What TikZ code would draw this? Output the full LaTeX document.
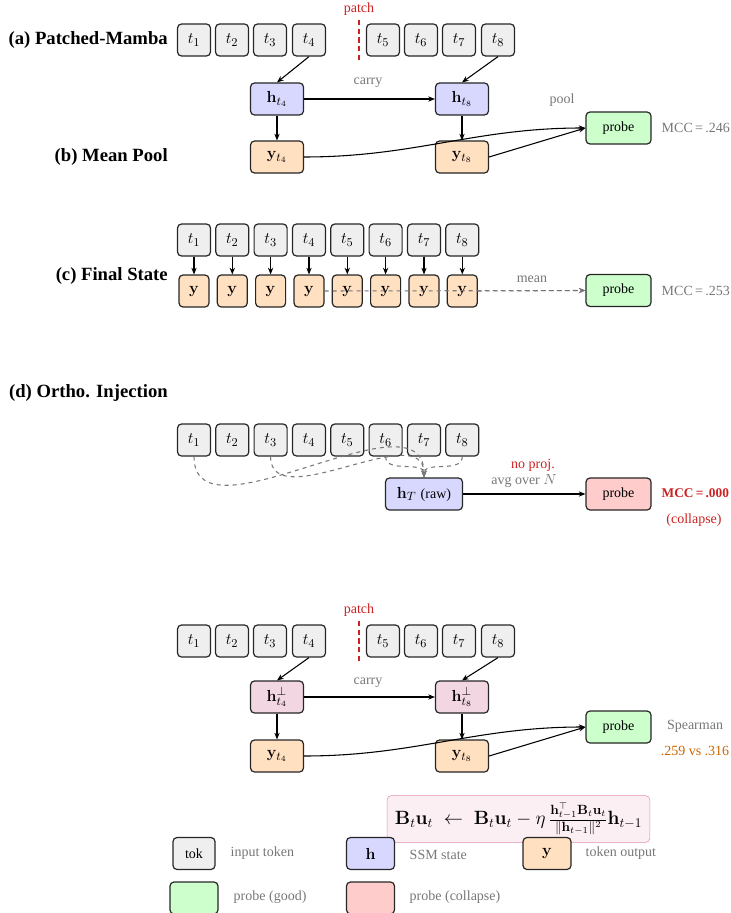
\documentclass[tikz,border=0pt]{standalone}
\usepackage[no-math]{fontspec}
\setmainfont{Liberation Serif}
\usepackage{amsmath,amssymb}
\usetikzlibrary{arrows.meta}

\definecolor{tokgray}{HTML}{EFEFEF}
\definecolor{hblue}{HTML}{D8D8FF}
\definecolor{hpink}{HTML}{F2D6E2}
\definecolor{yorange}{HTML}{FFE0C0}
\definecolor{pgreen}{HTML}{CCFFCC}
\definecolor{pred}{HTML}{FFCCCC}
\definecolor{eqfill}{HTML}{FCEFF3}
\definecolor{eqdraw}{HTML}{E08FAD}
\definecolor{patchred}{HTML}{CC2222}
\definecolor{noteorange}{HTML}{CC6600}
\definecolor{notegray}{HTML}{777777}

\tikzset{
  box/.style={draw=black!85, line width=0.9pt, rounded corners=3pt, inner sep=2pt, minimum height=24pt},
  mathbox/.style={box, font=\fontsize{12.6}{15}\selectfont},
  tok/.style={mathbox, fill=tokgray, minimum width=24.75pt},
  hst/.style={mathbox, fill=hblue, minimum width=39.75pt},
  hperp/.style={mathbox, fill=hpink, minimum width=39.75pt},
  yout/.style={mathbox, fill=yorange, minimum width=39.75pt},
  ysmall/.style={mathbox, fill=yorange, minimum width=22.5pt},
  probegood/.style={box, fill=pgreen, minimum width=48.75pt},
  probebad/.style={box, fill=pred, minimum width=48.75pt},
  panel/.style={anchor=east, inner sep=0pt, font=\fontsize{14}{16}\selectfont\bfseries},
  note/.style={text=notegray},
  link/.style={->, thick},
  soft/.style={->, thick, dashed, notegray},
  patchcut/.style={patchred, line width=1.5pt, dash pattern=on 4pt off 2.5pt},
}

\begin{document}
\begin{tikzpicture}[x=0.75pt, y=-0.75pt, >={Stealth[length=5pt,width=4pt]},
  font=\fontsize{10.5}{12.6}\selectfont]
  \useasboundingbox (0,0) rectangle (731,913);

  % (a) patched scan
  \node[panel] (lblA) at (168,40) {(a) Patched-Mamba};
  \foreach \i/\x in {1/194,2/232,3/270,4/309,5/383,6/421,7/459,8/498}
    \node[tok] (a-t\i) at (\x,40) {$t_{\i}$};
  \node[text=patchred] (a-patch) at (359,9) {patch};
  \draw[patchcut] (359,20) -- (359,62);
  \node[hst] (a-h4) at (277,99) {$\mathbf{h}_{t_4}$};
  \node[hst] (a-h8) at (462,99) {$\mathbf{h}_{t_8}$};
  \node[note] (a-carry) at (368,83) {carry};
  \draw[link] (a-t4.south) -- (a-h4.north);
  \draw[link] (a-t8.south) -- (a-h8.north);
  \draw[link] (a-h4) -- (a-h8);

  % (b) mean pool
  \node[panel] (lblB) at (168,157) {(b) Mean Pool};
  \node[yout] (a-y4) at (277,157) {$\mathbf{y}_{t_4}$};
  \node[yout] (a-y8) at (462,157) {$\mathbf{y}_{t_8}$};
  \node[probegood] (a-probe) at (618.5,128) {probe};
  \node[note, anchor=west] (a-mcc) at (657,128) {MCC\,=\,.246};
  \node[note] (a-pool) at (562,100) {pool};
  \draw[link] (a-h4) -- (a-y4);
  \draw[link] (a-h8) -- (a-y8);
  \draw[link] (a-y4.east) to[out=0,in=180] (a-probe.west);
  \draw[link] (a-y8.east) -- (a-probe.west);

  % (c) final state
  \node[panel] (lblC) at (168,276) {(c) Final State};
  \foreach \i/\x in {1/194,2/232.3,3/270.6,4/309,5/347.3,6/385.6,7/424,8/462.3} {
    \node[tok] (c-t\i) at (\x,240) {$t_{\i}$};
    \node[ysmall] (c-y\i) at (\x,291) {$\mathbf{y}$};
    \draw[link] (c-t\i) -- (c-y\i);
  }
  \node[probegood] (c-probe) at (618.5,290.5) {probe};
  \node[note, anchor=west] (c-mcc) at (657,290.5) {MCC\,=\,.253};
  \node[note] (c-mean) at (532,279) {mean};
  \draw[soft] (c-y4.east) -- (c-probe.west);
  \draw[soft] (c-y8.east) -- (c-probe.west);

  % (d) ortho injection, raw state
  \node[panel] (lblD) at (168,393) {(d) Ortho. Injection};
  \foreach \i/\x in {1/194,2/232.3,3/270.6,4/309,5/347.3,6/385.6,7/424,8/462.3}
    \node[tok] (d-t\i) at (\x,440) {$t_{\i}$};
  \node[hst, minimum width=57.75pt] (d-hT) at (424,494) {$\mathbf{h}_T$ {\fontsize{10.5}{12.6}\selectfont(raw)}};
  \node[probebad] (d-probe) at (618.5,494) {probe};
  \node[anchor=west, text=patchred, font=\bfseries] (d-mcc) at (657,493) {MCC\,=\,.000};
  \node[text=patchred] (d-collapse) at (694,520) {(collapse)};
  \node[text=patchred] (d-noproj) at (533,465) {no proj.};
  \node[note] (d-avg) at (524,481) {avg over $N$};
  \foreach \i in {1,3,6,8}
    \draw[soft] (d-t\i.south) to[out=-90,in=90] (d-hT.north);
  \draw[link] (d-hT) -- (d-probe);

  % patched scan with orthogonal state
  \foreach \i/\x in {1/194,2/232,3/270,4/309,5/383,6/421,7/459,8/498}
    \node[tok] (e-t\i) at (\x,641) {$t_{\i}$};
  \node[text=patchred] (e-patch) at (359,610) {patch};
  \draw[patchcut] (359,621) -- (359,663);
  \node[hperp] (e-h4) at (277,697) {$\mathbf{h}^{\perp}_{t_4}$};
  \node[hperp] (e-h8) at (462,697) {$\mathbf{h}^{\perp}_{t_8}$};
  \node[yout] (e-y4) at (277,756) {$\mathbf{y}_{t_4}$};
  \node[yout] (e-y8) at (462,756) {$\mathbf{y}_{t_8}$};
  \node[probegood] (e-probe) at (618.5,727) {probe};
  \node[note] (e-carry) at (368,683) {carry};
  \node[note] (e-spear) at (695,726) {Spearman};
  \node[text=noteorange] (e-rho) at (695,751) {.259 vs .316};
  \draw[link] (e-t4.south) -- (e-h4.north);
  \draw[link] (e-t8.south) -- (e-h8.north);
  \draw[link] (e-h4) -- (e-h8);
  \draw[link] (e-h4) -- (e-y4);
  \draw[link] (e-h8) -- (e-y8);
  \draw[link] (e-y4.east) to[out=0,in=180] (e-probe.west);
  \draw[link] (e-y8.east) -- (e-probe.west);

  % update rule
  \node[draw=eqdraw, fill=eqfill, rounded corners=3pt, minimum width=197pt, minimum height=35pt,
    font=\fontsize{14.6}{17}\selectfont]
    (eq) at (518.5,819) {$\mathbf{B}_t\mathbf{u}_t \;\leftarrow\; \mathbf{B}_t\mathbf{u}_t - \eta\,\frac{\mathbf{h}_{t-1}^{\top}\mathbf{B}_t\mathbf{u}_t}{\|\mathbf{h}_{t-1}\|^2}\mathbf{h}_{t-1}$};

  % legend
  \node[tok, minimum width=31.5pt, font=\fontsize{10.5}{12.6}\selectfont] (lg-tok) at (194,853.5) {tok};
  \node[note, anchor=west] (lg-tok-t) at (226,853) {input token};
  \node[hst, minimum width=36pt] (lg-h) at (370.5,853.5) {$\mathbf{h}$};
  \node[note, anchor=west] (lg-h-t) at (405,855) {SSM state};
  \node[yout, minimum width=36pt] (lg-y) at (547,853.5) {$\mathbf{y}$};
  \node[note, anchor=west] (lg-y-t) at (581,853) {token output};
  \node[probegood, minimum width=36pt] (lg-good) at (194,898) {};
  \node[note, anchor=west] (lg-good-t) at (229,897) {probe (good)};
  \node[probebad, minimum width=36pt] (lg-bad) at (370.5,898) {};
  \node[note, anchor=west] (lg-bad-t) at (405,897) {probe (collapse)};
\end{tikzpicture}
\end{document}
